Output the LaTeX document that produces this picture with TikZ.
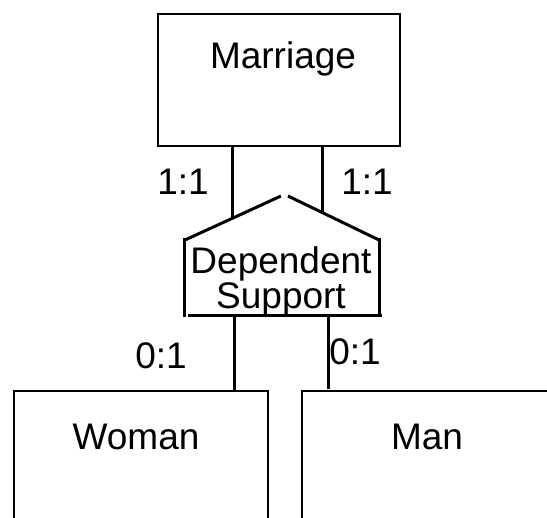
\documentclass[tikz,border=0pt]{standalone}
\usepackage{fontspec}
\setmainfont{Liberation Sans}
\begin{document}
\begin{tikzpicture}[x=1pt,y=-1pt,
  lbl/.style={font=\fontsize{37}{35}\selectfont, inner sep=0pt},
  ent/.style={draw, line width=2pt, inner sep=0pt},
  conn/.style={line width=3pt}]
\useasboundingbox (0,0) rectangle (547,518);
\clip (0,0) rectangle (547,518);
\fill[white] (0,0) rectangle (547,518);
% Marriage
\node[ent, minimum width=242pt, minimum height=132pt, anchor=north west] (marriage) at (157,13) {};
\node[lbl] (mtext) at (283,59) {Marriage};
% Woman, Man
\node[ent, minimum width=254pt, minimum height=160pt, anchor=north west] (woman) at (13,390) {};
\node[lbl] (wtext) at (136,437) {Woman};
\node[ent, minimum width=260pt, minimum height=160pt, anchor=north west] (man) at (301,390) {};
\node[lbl] (mantext) at (427,437) {Man};
% Dependent Support shape
\coordinate (lwt) at (185,240);
\coordinate (rwt) at (379,240);
\coordinate (apl) at (281,196);
\coordinate (apr) at (288,196);
\draw[conn] (lwt) -- (apl);
\draw[conn] (apr) -- (rwt);
\draw[conn] (184.5,238) -- (184.5,317);
\draw[conn] (379,238) -- (379,317);
\draw[conn] (188,316) -- (382,316);
\node[lbl, align=center] (dep) at (281,281) {Dependent\\Support};
% connectors top
\coordinate (mt1) at (232,217);
\coordinate (mt2) at (322,213);
\draw[conn] (232,145) -- (mt1);
\draw[conn] (322,145) -- (mt2);
\node[lbl] (l1) at (183,182) {1:1};
\node[lbl] (l2) at (367,182) {1:1};
% connectors bottom
\draw[conn] (234,316) -- (234,390);
\draw[conn] (328,316) -- (328,389);
\node[lbl] (l3) at (161,356) {0:1};
\node[lbl] (l4) at (355,352) {0:1};
\end{tikzpicture}
\end{document}
